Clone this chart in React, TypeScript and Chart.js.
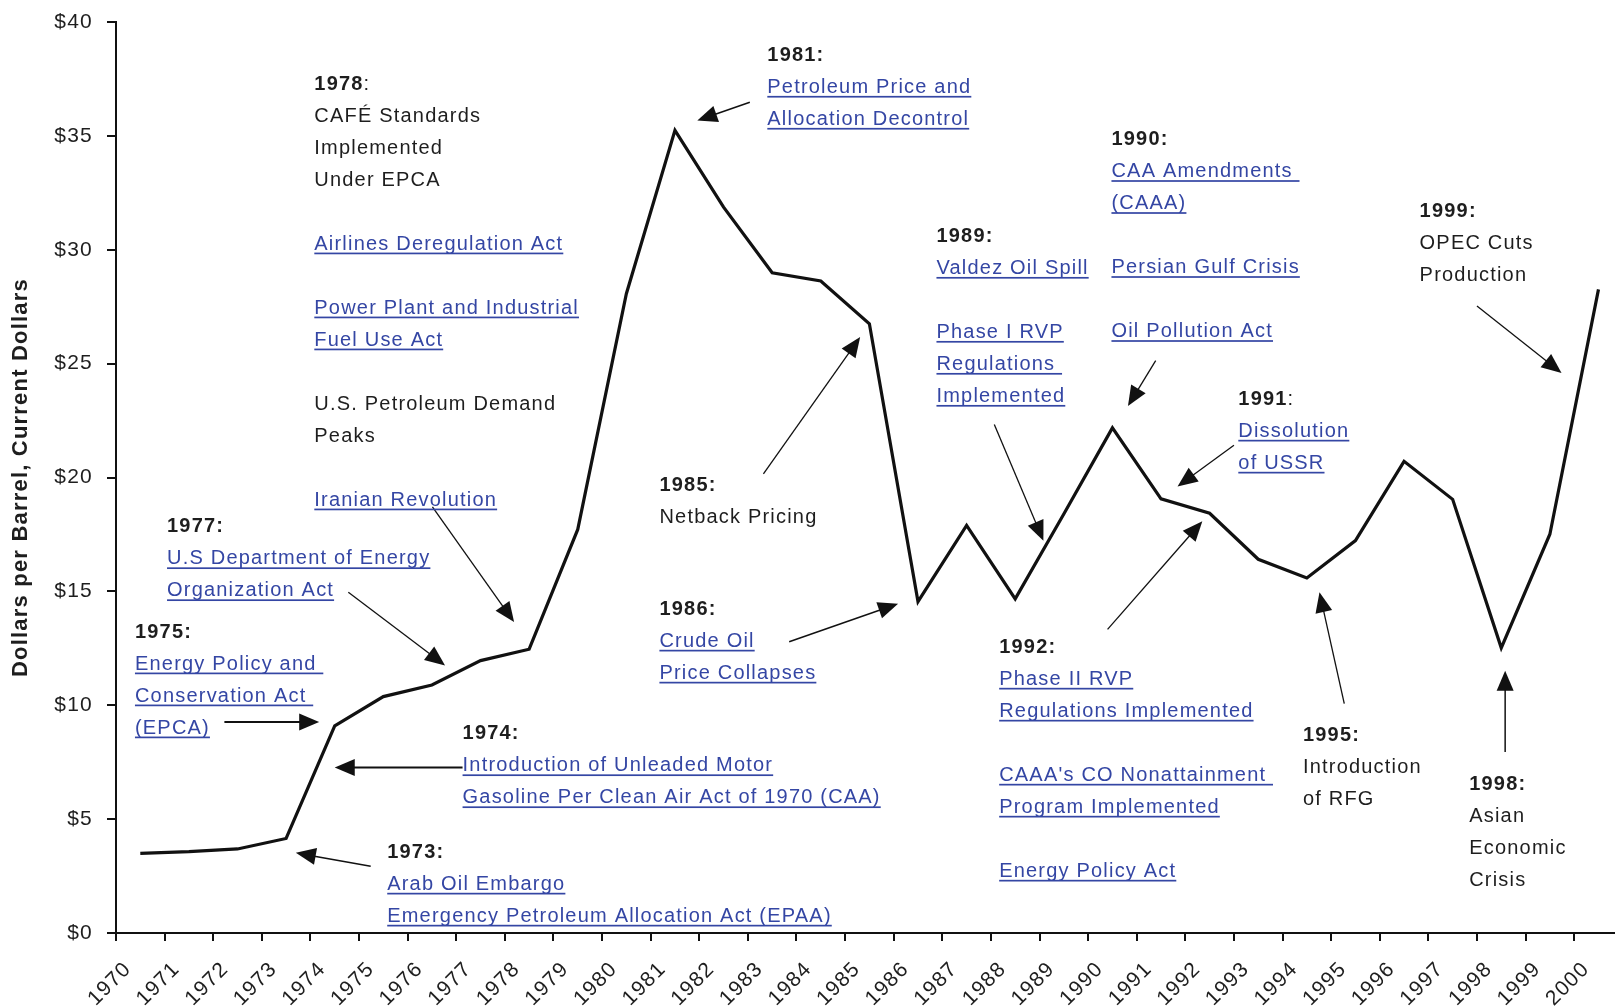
import React, { useEffect, useRef } from 'react';
import { Chart, registerables } from 'chart.js';

Chart.register(...registerables);

// ---------- data ----------
const years = [
  1970, 1971, 1972, 1973, 1974, 1975, 1976, 1977, 1978, 1979,
  1980, 1981, 1982, 1983, 1984, 1985, 1986, 1987, 1988, 1989,
  1990, 1991, 1992, 1993, 1994, 1995, 1996, 1997, 1998, 1999, 2000,
];
const prices = [
  3.5, 3.57, 3.69, 4.15, 9.09, 10.38, 10.89, 11.96, 12.46, 17.72,
  28.07, 35.24, 31.87, 28.99, 28.63, 26.75, 14.55, 17.9, 14.67, 18.4,
  22.18, 19.06, 18.43, 16.41, 15.59, 17.23, 20.71, 19.04, 12.52, 17.51, 28.26,
];
const yMin = 0;
const yMax = 40;
const yStep = 5;
const xFirstLabel = 1970;
const xLastLabel = 2000;
const yAxisTitle = 'Dollars per Barrel, Current Dollars';

// annotation texts: ['h', year, suffix] header, ['b'] bold, ['n'] normal, ['l'] link, [''] blank
type NoteLine = string[];
const note1978: NoteLine[] = [
  ['h', '1978', ':'], ['n', 'CAFÉ Standards'], ['n', 'Implemented'], ['n', 'Under EPCA'], [''],
  ['l', 'Airlines Deregulation Act'], [''],
  ['l', 'Power Plant and Industrial'], ['l', 'Fuel Use Act'], [''],
  ['n', 'U.S. Petroleum Demand'], ['n', 'Peaks'], [''],
  ['l', 'Iranian Revolution'],
];
const note1977: NoteLine[] = [['b', '1977:'], ['l', 'U.S Department of Energy'], ['l', 'Organization Act']];
const note1975: NoteLine[] = [['b', '1975:'], ['l', 'Energy Policy and '], ['l', 'Conservation Act '], ['l', '(EPCA)']];
const note1974: NoteLine[] = [['b', '1974:'], ['l', 'Introduction of Unleaded Motor'], ['l', 'Gasoline Per Clean Air Act of 1970 (CAA)']];
const note1973: NoteLine[] = [['b', '1973:'], ['l', 'Arab Oil Embargo'], ['l', 'Emergency Petroleum Allocation Act (EPAA)']];
const note1981: NoteLine[] = [['b', '1981:'], ['l', 'Petroleum Price and'], ['l', 'Allocation Decontrol']];
const note1985: NoteLine[] = [['b', '1985:'], ['n', 'Netback Pricing']];
const note1986: NoteLine[] = [['b', '1986:'], ['l', 'Crude Oil'], ['l', 'Price Collapses']];
const note1989: NoteLine[] = [
  ['b', '1989:'], ['l', 'Valdez Oil Spill'], [''],
  ['l', 'Phase I RVP'], ['l', 'Regulations '], ['l', 'Implemented'],
];
const note1990: NoteLine[] = [
  ['b', '1990:'], ['l', 'CAA Amendments '], ['l', '(CAAA)'], [''],
  ['l', 'Persian Gulf Crisis'], [''], ['l', 'Oil Pollution Act'],
];
const note1991: NoteLine[] = [['h', '1991', ':'], ['l', 'Dissolution'], ['l', 'of USSR']];
const note1992: NoteLine[] = [
  ['b', '1992:'], ['l', 'Phase II RVP'], ['l', 'Regulations Implemented'], [''],
  ['l', "CAAA's CO Nonattainment "], ['l', 'Program Implemented'], [''],
  ['l', 'Energy Policy Act'],
];
const note1995: NoteLine[] = [['b', '1995:'], ['n', 'Introduction'], ['n', 'of RFG']];
const note1998: NoteLine[] = [['b', '1998:'], ['n', 'Asian'], ['n', 'Economic'], ['n', 'Crisis']];
const note1999: NoteLine[] = [['b', '1999:'], ['n', 'OPEC Cuts'], ['n', 'Production']];

// anchors in data units (year, dollars) of the first line of each note
const noteAnchors: [number, number, NoteLine[]][] = [
  [1974.08, 37.34, note1978],
  [1971.05, 17.9, note1977],
  [1970.39, 13.28, note1975],
  [1977.13, 8.81, note1974],
  [1975.58, 3.61, note1973],
  [1983.4, 38.6, note1981],
  [1981.18, 19.71, note1985],
  [1981.18, 14.28, note1986],
  [1986.88, 30.65, note1989],
  [1990.48, 34.9, note1990],
  [1993.09, 23.5, note1991],
  [1988.17, 12.61, note1992],
  [1994.42, 8.72, note1995],
  [1997.84, 6.59, note1998],
  [1996.82, 31.73, note1999],
];

// arrows in data units: tail x, tail y, head x, head y, line width
const arrows: number[][] = [
  [1972.23, 9.26, 1974.18, 9.26, 2],
  [1977.13, 7.27, 1974.5, 7.27, 2],
  [1975.24, 2.93, 1973.7, 3.52, 1.5],
  [1974.78, 14.96, 1976.77, 11.75, 1.3],
  [1976.51, 18.71, 1978.19, 13.65, 1.3],
  [1983.04, 36.48, 1981.96, 35.67, 1.5],
  [1983.32, 20.16, 1985.31, 26.17, 1.3],
  [1983.85, 12.79, 1986.09, 14.46, 1.5],
  [1988.07, 22.33, 1989.08, 17.22, 1.3],
  [1991.39, 25.13, 1990.82, 23.14, 1.3],
  [1993.0, 21.42, 1991.84, 19.61, 1.3],
  [1990.4, 13.33, 1992.35, 18.08, 1.3],
  [1995.27, 10.07, 1994.76, 14.96, 1.3],
  [1998.58, 7.95, 1998.58, 11.52, 1.5],
  [1998.0, 27.53, 1999.74, 24.59, 1.3],
];

// ---------- styles ----------
const FONT = '"Liberation Sans", Arial, sans-serif';
const TEXT = '#1e1e1e';
const LINK = '#3446a4';
const NOTE_SIZE = 20;
const LINE_H = 32;
const SPACING = '1.2px';

const spacingPlugin = {
  id: 'spacing',
  beforeDraw(chart: any) {
    chart.ctx.letterSpacing = SPACING;
  },
};

const notesPlugin = {
  id: 'notes',
  afterDraw(chart: any) {
    const { ctx } = chart;
    const xs = chart.scales.x;
    const ys = chart.scales.y;
    ctx.save();
    ctx.letterSpacing = SPACING;
    // arrows
    for (const a of arrows) {
      const x1 = xs.getPixelForValue(a[0]);
      const y1 = ys.getPixelForValue(a[1]);
      const x2 = xs.getPixelForValue(a[2]);
      const y2 = ys.getPixelForValue(a[3]);
      const ang = Math.atan2(y2 - y1, x2 - x1);
      const hl = 20;
      const hw = 8.5;
      const bx = x2 - hl * Math.cos(ang);
      const by = y2 - hl * Math.sin(ang);
      ctx.strokeStyle = '#111';
      ctx.fillStyle = '#111';
      ctx.lineWidth = a[4];
      ctx.beginPath();
      ctx.moveTo(x1, y1);
      ctx.lineTo(bx + 4 * Math.cos(ang), by + 4 * Math.sin(ang));
      ctx.stroke();
      ctx.beginPath();
      ctx.moveTo(x2, y2);
      ctx.lineTo(bx - hw * Math.sin(ang), by + hw * Math.cos(ang));
      ctx.lineTo(bx + hw * Math.sin(ang), by - hw * Math.cos(ang));
      ctx.closePath();
      ctx.fill();
    }
    // texts
    ctx.textAlign = 'left';
    ctx.textBaseline = 'alphabetic';
    for (const [nx, ny, lines] of noteAnchors) {
      const left = xs.getPixelForValue(nx);
      const top = ys.getPixelForValue(ny);
      lines.forEach((ln, i) => {
        const cy = top + i * LINE_H;
        const base = cy + 7;
        const kind = ln[0];
        if (!kind) return;
        if (kind === 'h') {
          ctx.font = `bold ${NOTE_SIZE}px ${FONT}`;
          ctx.fillStyle = TEXT;
          ctx.fillText(ln[1], left, base);
          const w = ctx.measureText(ln[1]).width;
          ctx.font = `${NOTE_SIZE}px ${FONT}`;
          ctx.fillText(ln[2], left + w, base);
        } else if (kind === 'b') {
          ctx.font = `bold ${NOTE_SIZE}px ${FONT}`;
          ctx.fillStyle = TEXT;
          ctx.fillText(ln[1], left, base);
        } else if (kind === 'n') {
          ctx.font = `${NOTE_SIZE}px ${FONT}`;
          ctx.fillStyle = TEXT;
          ctx.fillText(ln[1], left, base);
        } else if (kind === 'l') {
          ctx.font = `${NOTE_SIZE}px ${FONT}`;
          ctx.fillStyle = LINK;
          ctx.fillText(ln[1], left, base);
          const w = ctx.measureText(ln[1]).width;
          ctx.fillRect(left, base + 3, w, 1.7);
        }
      });
    }
    ctx.restore();
    ctx.letterSpacing = '0px';
  },
};

export default function App() {
  const ref = useRef<HTMLCanvasElement | null>(null);
  useEffect(() => {
    if (!ref.current) return;
    const chart = new Chart(ref.current, {
      type: 'line',
      data: {
        datasets: [
          {
            label: 'Crude oil price',
            data: years.map((yr, i) => ({ x: yr + 0.5, y: prices[i] })),
            borderColor: '#111',
            borderWidth: 3.2,
            pointRadius: 0,
            tension: 0,
            fill: false,
          },
        ],
      },
      options: {
        animation: false,
        responsive: true,
        maintainAspectRatio: false,
        layout: { padding: { top: 22, right: 0, left: 0, bottom: 0 } },
        plugins: { legend: { display: false }, tooltip: { enabled: false } },
        scales: {
          x: {
            type: 'linear',
            min: xFirstLabel,
            max: xLastLabel + 0.84,
            afterBuildTicks: (scale: any) => {
              scale.ticks = scale.ticks.filter(
                (t: any) => Number.isInteger(t.value) && t.value <= xLastLabel
              );
            },
            afterFit: (scale: any) => {
              scale.height = 75;
            },
            ticks: {
              stepSize: 1,
              autoSkip: false,
              minRotation: 45,
              maxRotation: 45,
              padding: 16,
              labelOffset: 12,
              color: TEXT,
              font: { family: FONT, size: 21 },
              callback: (v: any) => String(v),
            },
            grid: { drawOnChartArea: false, drawTicks: true, tickLength: 8, color: '#111', lineWidth: 2 },
            border: { display: true, color: '#111', width: 2 },
          },
          y: {
            min: yMin,
            max: yMax,
            afterFit: (scale: any) => {
              scale.width = 116;
            },
            ticks: {
              stepSize: yStep,
              padding: 14,
              color: TEXT,
              font: { family: FONT, size: 21, lineHeight: 0.5 },
              callback: (v: any) => '$' + v,
            },
            title: {
              display: true,
              text: yAxisTitle,
              color: TEXT,
              font: { family: FONT, size: 22, weight: 'bold' },
              padding: { top: 8, bottom: 0 },
            },
            grid: { drawOnChartArea: false, drawTicks: true, tickLength: 9, color: '#111', lineWidth: 2 },
            border: { display: true, color: '#111', width: 2 },
          },
        },
      },
      plugins: [spacingPlugin, notesPlugin],
    } as any);
    return () => chart.destroy();
  }, []);
  return (
    <div style={{ position: 'fixed', left: 0, top: 0, width: 1615, height: 1008, background: '#fff' }}>
      <canvas ref={ref} />
    </div>
  );
}
